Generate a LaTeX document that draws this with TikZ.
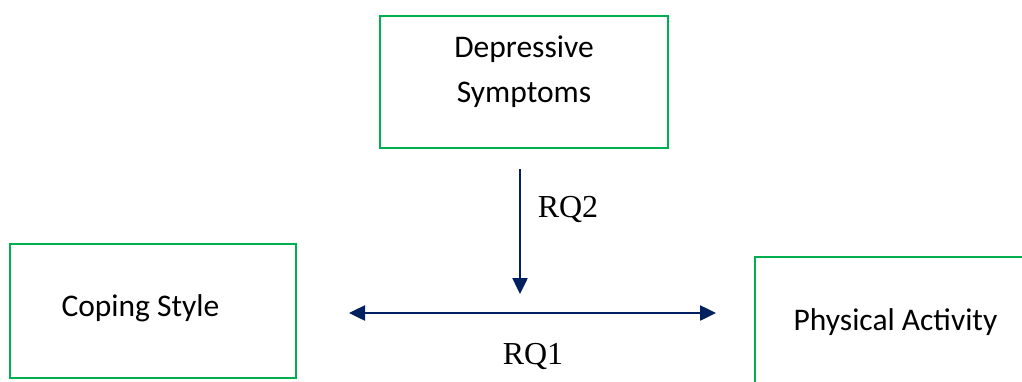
\documentclass[tikz,border=0pt]{standalone}
\usepackage{fontspec}
\setmainfont{Carlito}
\newfontfamily\rqfont{Liberation Serif}
\usetikzlibrary{arrows.meta}
\definecolor{boxgreen}{HTML}{00B050}
\definecolor{navy}{HTML}{002060}
\tikzset{
  varbox/.style={draw=boxgreen, line width=2.8pt, fill=white, inner sep=0pt},
  boxtext/.style={font=\fontsize{31.5}{45}\selectfont, align=center, inner sep=0pt},
  arr/.style={draw=navy, line width=2.5pt, -{Triangle[length=16pt,width=15pt]}},
  darr/.style={draw=navy, line width=2.5pt, {Triangle[length=16pt,width=15pt]}-{Triangle[length=16pt,width=15pt]}},
  rq/.style={font=\rqfont\fontsize{32}{38}\selectfont, inner sep=0pt}
}
\begin{document}
\begin{tikzpicture}[x=1pt,y=-1pt]
\useasboundingbox (0,0) rectangle (1022,381);
\clip (0,0) rectangle (1022,381);
% boxes
\node[varbox, minimum width=288pt, minimum height=132pt] (dep) at (524,82) {};
\node[varbox, minimum width=286pt, minimum height=134pt] (cop) at (153,311) {};
\node[varbox, minimum width=300pt, minimum height=150pt] (pa) at (905,332) {};
% texts
\node[boxtext] (deptext) at (524,72) {Depressive\\Symptoms};
\node[boxtext] (coptext) at (140.5,308) {Coping Style};
\node[boxtext] (patext) at (895.5,322) {Physical Activity};
% connectors
\coordinate (v1) at (520,169);
\coordinate (v2) at (520,294);
\coordinate (h1) at (349,313);
\coordinate (h2) at (716,313);
\draw[arr] (v1) -- (v2);
\draw[darr] (h1) -- (h2);
\node[rq] (rq2) at (568,209) {RQ2};
\node[rq] (rq1) at (533,356) {RQ1};
\end{tikzpicture}
\end{document}
